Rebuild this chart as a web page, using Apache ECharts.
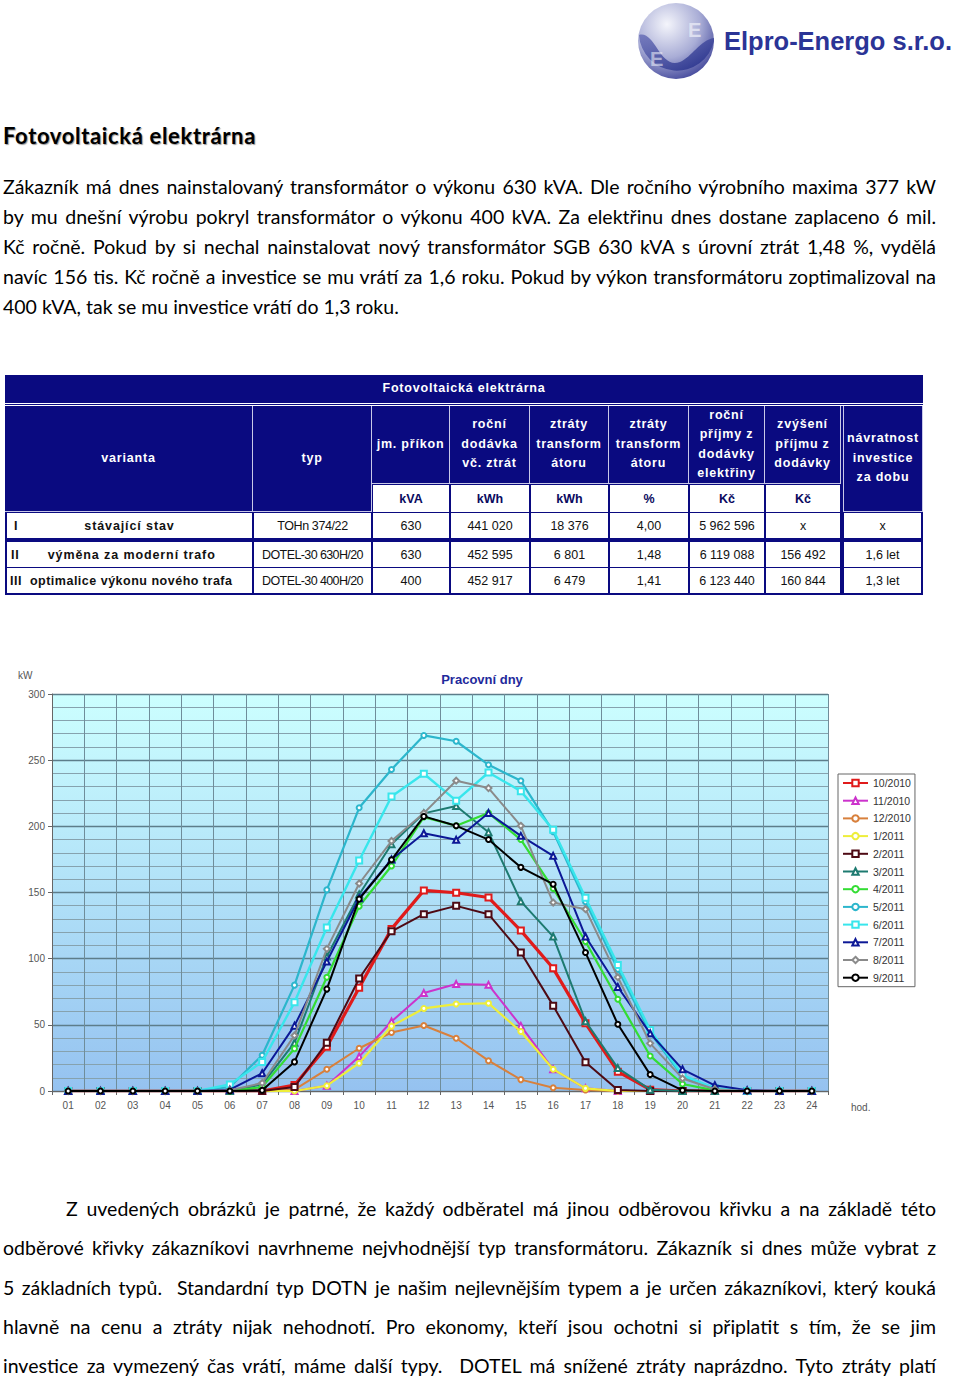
<!DOCTYPE html>
<html><head><meta charset="utf-8">
<script src="https://cdn.jsdelivr.net/npm/echarts@6/dist/echarts.min.js"></script>
<style>
html,body{margin:0;padding:0;background:#fff;}
body{width:960px;height:1377px;position:relative;overflow:hidden;font-family:Lato,"Noto Sans",sans-serif;color:#000;}
.ln{position:absolute;left:3px;width:933px;height:30px;line-height:30px;font-size:19.5px;white-space:nowrap;}
.jst{text-align:justify;text-align-last:justify;}
#h1{position:absolute;left:3px;top:121px;font-size:22px;font-weight:bold;line-height:30px;white-space:nowrap;text-shadow:1px 1px 1px #999;}
#tbl{position:absolute;left:5px;top:375px;width:918px;height:220px;background:#0a0a80;font-family:"Liberation Sans",Arial,sans-serif;}
#tbl div{position:absolute;box-sizing:border-box;display:flex;align-items:center;justify-content:center;text-align:center;}
.hc{color:#fff;font-weight:bold;font-size:12.5px;letter-spacing:0.8px;line-height:19.5px;border-right:1px solid #c8c8e8;border-bottom:1px solid #c8c8e8;}
.uc{background:#fff;color:#0a0a60;font-weight:bold;font-size:12.5px;}
.dc{background:#fff;color:#111;font-size:12.5px;}
.b0{font-weight:bold;letter-spacing:0.9px;}
#chart{position:absolute;left:0;top:660px;width:960px;height:460px;}
</style></head>
<body>
<svg width="326" height="90" style="position:absolute;left:630px;top:0" xmlns="http://www.w3.org/2000/svg">
<defs>
<radialGradient id="lg" cx="38%" cy="28%" r="80%"><stop offset="0" stop-color="#f4f5fb"/><stop offset="0.55" stop-color="#a9add6"/><stop offset="1" stop-color="#3a3f96"/></radialGradient>
<linearGradient id="lw" x1="0" y1="0" x2="1" y2="1"><stop offset="0" stop-color="#6a70b8"/><stop offset="1" stop-color="#1f2a86"/></linearGradient>
</defs>
<circle cx="46" cy="41" r="38" fill="url(#lg)"/>
<path d="M9,35 C25,30 30,70 50,62 C62,57 70,40 84,38 L84,41 A38,38 0 0 1 9,35 Z" fill="url(#lw)" opacity="0.85"/>
<text x="58" y="37" font-family="Liberation Sans" font-weight="bold" font-size="20" fill="#e8e9f5" opacity="0.8">E</text>
<text x="20" y="66" font-family="Liberation Sans" font-weight="bold" font-size="20" fill="#e8e9f5" opacity="0.6">E</text>
<text x="94" y="50" font-family="Liberation Sans" font-weight="bold" font-size="26" fill="#2b3496" textLength="228" lengthAdjust="spacingAndGlyphs">Elpro-Energo s.r.o.</text>
</svg>

<div id="h1">Fotovoltaická elektrárna</div>

<div class="ln jst" style="top:172px">Zákazník má dnes nainstalovaný transformátor o výkonu 630 kVA. Dle ročního výrobního maxima 377 kW</div>
<div class="ln jst" style="top:202px">by mu dnešní výrobu pokryl transformátor o výkonu 400 kVA. Za elektřinu dnes dostane zaplaceno 6 mil.</div>
<div class="ln jst" style="top:232px">Kč ročně. Pokud by si nechal nainstalovat nový transformátor SGB 630 kVA s úrovní ztrát 1,48 %, vydělá</div>
<div class="ln jst" style="top:262px">navíc 156 tis. Kč ročně a investice se mu vrátí za 1,6 roku. Pokud by výkon transformátoru zoptimalizoval na</div>
<div class="ln" style="top:292px">400 kVA, tak se mu investice vrátí do 1,3 roku.</div>

<div id="tbl">
 <div class="hc" style="left:0;top:0;width:918px;height:28px;border:none;">Fotovoltaická elektrárna</div>
 <div style="left:0;top:28px;width:918px;height:3px;border-top:1px solid #fff;border-bottom:1px solid #fff;"></div>
 <div class="hc" style="left:0;top:31px;width:248px;height:106px;">varianta</div>
 <div class="hc" style="left:248px;top:31px;width:119px;height:106px;">typ</div>
 <div class="hc" style="left:367px;top:31px;width:78px;height:78px;">jm. příkon</div>
 <div class="hc" style="left:445px;top:31px;width:80px;height:78px;">roční<br>dodávka<br>vč. ztrát</div>
 <div class="hc" style="left:525px;top:31px;width:79px;height:78px;">ztráty<br>transform<br>átoru</div>
 <div class="hc" style="left:604px;top:31px;width:80px;height:78px;">ztráty<br>transform<br>átoru</div>
 <div class="hc" style="left:684px;top:31px;width:76px;height:78px;">roční<br>příjmy z<br>dodávky<br>elektřiny</div>
 <div class="hc" style="left:760px;top:31px;width:76px;height:78px;">zvýšení<br>příjmu z<br>dodávky</div>
 <div class="hc" style="left:838px;top:31px;width:80px;height:106px;border-left:1px solid #c8c8e8;">návratnost<br>investice<br>za dobu</div>
 <div class="uc" style="left:368px;top:110px;width:76px;height:27px;">kVA</div>
 <div class="uc" style="left:446px;top:110px;width:78px;height:27px;">kWh</div>
 <div class="uc" style="left:526px;top:110px;width:77px;height:27px;">kWh</div>
 <div class="uc" style="left:605px;top:110px;width:78px;height:27px;">%</div>
 <div class="uc" style="left:685px;top:110px;width:74px;height:27px;">Kč</div>
 <div class="uc" style="left:761px;top:110px;width:74px;height:27px;">Kč</div>

 <div class="dc b0" style="left:2px;top:138px;width:245px;height:25px;"><span style="position:absolute;left:7px;">I</span>stávající stav</div>
 <div class="dc" style="left:249px;top:138px;width:117px;height:25px;letter-spacing:-0.4px;">TOHn 374/22</div>
 <div class="dc" style="left:368px;top:138px;width:76px;height:25px;">630</div>
 <div class="dc" style="left:446px;top:138px;width:78px;height:25px;">441 020</div>
 <div class="dc" style="left:526px;top:138px;width:77px;height:25px;">18 376</div>
 <div class="dc" style="left:605px;top:138px;width:78px;height:25px;">4,00</div>
 <div class="dc" style="left:685px;top:138px;width:74px;height:25px;">5 962 596</div>
 <div class="dc" style="left:761px;top:138px;width:74px;height:25px;">x</div>
 <div class="dc" style="left:839px;top:138px;width:77px;height:25px;">x</div>

 <div class="dc b0" style="left:2px;top:167px;width:245px;height:25px;"><span style="position:absolute;left:4px;">II</span>&nbsp;výměna za moderní trafo</div>
 <div class="dc" style="left:249px;top:167px;width:117px;height:25px;letter-spacing:-0.6px;">DOTEL-30 630H/20</div>
 <div class="dc" style="left:368px;top:167px;width:76px;height:25px;">630</div>
 <div class="dc" style="left:446px;top:167px;width:78px;height:25px;">452 595</div>
 <div class="dc" style="left:526px;top:167px;width:77px;height:25px;">6 801</div>
 <div class="dc" style="left:605px;top:167px;width:78px;height:25px;">1,48</div>
 <div class="dc" style="left:685px;top:167px;width:74px;height:25px;">6 119 088</div>
 <div class="dc" style="left:761px;top:167px;width:74px;height:25px;">156 492</div>
 <div class="dc" style="left:839px;top:167px;width:77px;height:25px;">1,6 let</div>

 <div class="dc b0" style="left:2px;top:193px;width:245px;height:25px;justify-content:flex-start;letter-spacing:0.5px;"><span style="position:relative;left:3px;">III</span><span style="position:relative;left:11px;">optimalice výkonu nového trafa</span></div>
 <div class="dc" style="left:249px;top:193px;width:117px;height:25px;letter-spacing:-0.6px;">DOTEL-30 400H/20</div>
 <div class="dc" style="left:368px;top:193px;width:76px;height:25px;">400</div>
 <div class="dc" style="left:446px;top:193px;width:78px;height:25px;">452 917</div>
 <div class="dc" style="left:526px;top:193px;width:77px;height:25px;">6 479</div>
 <div class="dc" style="left:605px;top:193px;width:78px;height:25px;">1,41</div>
 <div class="dc" style="left:685px;top:193px;width:74px;height:25px;">6 123 440</div>
 <div class="dc" style="left:761px;top:193px;width:74px;height:25px;">160 844</div>
 <div class="dc" style="left:839px;top:193px;width:77px;height:25px;">1,3 let</div>
</div>

<div id="chart"></div>

<div class="ln jst" style="top:1194px;left:66px;width:870px;">Z uvedených obrázků je patrné, že každý odběratel má jinou odběrovou křivku a na základě této</div>
<div class="ln jst" style="top:1233px">odběrové křivky zákazníkovi navrhneme nejvhodnější typ transformátoru. Zákazník si dnes může vybrat z</div>
<div class="ln jst" style="top:1273px">5 základních typů.&nbsp; Standardní typ DOTN je našim nejlevnějším typem a je určen zákazníkovi, který kouká</div>
<div class="ln jst" style="top:1312px">hlavně na cenu a ztráty nijak nehodnotí. Pro ekonomy, kteří jsou ochotni si připlatit s tím, že se jim</div>
<div class="ln jst" style="top:1351px">investice za vymezený čas vrátí, máme další typy.&nbsp; DOTEL má snížené ztráty naprázdno. Tyto ztráty platí</div>

<script>
// fit text lines that would be wider than their box
function fitLine(el, target){
  const r = document.createRange(); r.selectNodeContents(el);
  const cls = el.classList.contains('jst');
  if (cls) el.classList.remove('jst');
  const w = r.getBoundingClientRect().width;
  const n = el.textContent.length;
  if (w > target) el.style.letterSpacing = ((target - w) / n) + 'px';
  if (cls) el.classList.add('jst');
}
document.querySelectorAll('.ln.jst').forEach(el => fitLine(el, el.clientWidth - 1));
(function(){ const h = document.getElementById('h1'); const r = document.createRange(); r.selectNodeContents(h);
  const w = r.getBoundingClientRect().width; const n = h.textContent.length; h.style.letterSpacing = ((253 - w) / n) + 'px'; })();

// ---- chart data ----
const hours = ['01','02','03','04','05','06','07','08','09','10','11','12','13','14','15','16','17','18','19','20','21','22','23','24'];
const yTicks = [0, 50, 100, 150, 200, 250, 300];
const seriesNames = ['10/2010','11/2010','12/2010','1/2011','2/2011','3/2011','4/2011','5/2011','6/2011','7/2011','8/2011','9/2011'];
const s_10_2010 = [0,0,0,0,0,0,0,4.5,33.5,78,122.5,151.6,149.8,146.2,121.2,92.7,51.2,14.6,1,0,0,0,0,0];
const s_11_2010 = [0,0,0,0,0,0,0,0,4,26,52.5,74,80.8,80.2,49.2,16.4,2,0,0,0,0,0,0,0];
const s_12_2010 = [0,0,0,0,0,0,0,1,16.4,32.3,44.2,49.5,39.9,22.9,8.6,2.5,0.8,0,0,0,0,0,0,0];
const s_1_2011  = [0,0,0,0,0,0,0,0,4,21,49,62.4,65.7,66.3,44.9,16.4,2,0,0,0,0,0,0,0];
const s_2_2011  = [0,0,0,0,0,0,0,3,36.5,85,120.7,133.6,139.9,133.6,104.6,64.5,21.7,0.8,0,0,0,0,0,0];
const s_3_2011  = [0,0,0,0,0,0,5,36.5,101.6,148.5,186.4,209.8,215.4,195.6,143.3,116.7,52.7,17.3,1,0,0,0,0,0];
const s_4_2011  = [0,0,0,0,0,0,3,32,86,139.6,170,207,200.4,210,190,153,113,69.3,26.5,5.3,0.5,0,0,0];
const s_5_2011  = [0,0,0,0,0,3,27,80,152,214,243,268.7,264.3,246.5,234.4,196,143,92,44,11,2,0,0,0];
const s_6_2011  = [0,0,0,0,0,5,22,67,123.5,174.2,222.5,239.7,219.4,240.7,226.6,197.4,146,95.3,46.1,12,2,0,0,0];
const s_7_2011  = [0,0,0,0,0,1,13.4,49.4,97.8,145.7,175,194.8,189.8,210,192.8,177.7,116.7,78.6,43.6,16.4,4.3,0.5,0,0];
const s_8_2011  = [0,0,0,0,0,0.5,6,42,107.4,156.8,188.9,210,234.5,228.9,200.4,142.4,137.4,86,36,9.5,1.3,0,0,0];
const s_9_2011  = [0,0,0,0,0,0,0.5,22,77,145,174.7,207.5,200.4,190,169,156.3,104.6,50.4,12.4,0.5,0,0,0,0];
const seriesData = [s_10_2010,s_11_2010,s_12_2010,s_1_2011,s_2_2011,s_3_2011,s_4_2011,s_5_2011,s_6_2011,s_7_2011,s_8_2011,s_9_2011];

const colors  = ['#e01b1b','#cc33cc','#d8803c','#eeee3a','#4e0a14','#1d7a70','#33dd33','#2cb6cc','#38e6ec','#0c1896','#8a8a8a','#000000'];
const symbols = ['emptyRect','emptyTriangle','emptyCircle','emptyCircle','emptyRect','emptyTriangle','emptyCircle','emptyCircle','emptyRect','emptyTriangle','emptyDiamond','emptyCircle'];
const widths  = [3.2,2,2,2.2,2,2,2.2,2.2,2.4,2,2,2];

const chart = echarts.init(document.getElementById('chart'), null, {renderer:'svg'});
const font = '"Liberation Sans", Arial, sans-serif';
chart.setOption({
  animation:false,
  grid:{left:52, top:34, width:776, height:397, show:true, borderWidth:0,
    backgroundColor:{type:'linear',x:0,y:0,x2:0,y2:1,colorStops:[{offset:0,color:'#ccffff'},{offset:1,color:'#95c2f0'}]}},
  xAxis:{type:'category', data:hours, boundaryGap:true,
    axisLine:{lineStyle:{color:'#666'}}, axisTick:{show:true,length:4,lineStyle:{color:'#666'}},
    axisLabel:{fontSize:10, color:'#555', margin:9, fontFamily:font},
    splitLine:{show:true, lineStyle:{color:'#6f8d9a', width:1}}},
  yAxis:{type:'value', min:yTicks[0], max:yTicks[yTicks.length-1], interval:50,
    axisLine:{show:true, lineStyle:{color:'#666'}}, axisTick:{show:true,length:4,lineStyle:{color:'#666'}},
    axisLabel:{fontSize:10, color:'#555', margin:7, fontFamily:font},
    splitLine:{lineStyle:{color:'#5d7d8a', width:1.3}},
    minorTick:{show:false, splitNumber:5},
    minorSplitLine:{show:true, lineStyle:{color:'#86a2ae', width:1}}},
  legend:{orient:'vertical', left:838, top:114, padding:[3,4,3,4], itemWidth:25, itemHeight:8, itemGap:5.7,
    borderColor:'#666', borderWidth:1, backgroundColor:'#fff',
    textStyle:{fontSize:10.5, color:'#333', fontFamily:font, lineHeight:12},
    data:seriesNames},
  graphic:[
    {type:'text', x:482, y:19, style:{text:'Pracovní dny', textAlign:'center', textVerticalAlign:'middle', font:'bold 13px "Liberation Sans", Arial', fill:'#1f2a9c'}},
    {type:'text', x:18, y:15, style:{text:'kW', textVerticalAlign:'middle', font:'10px "Liberation Sans", Arial', fill:'#555'}},
    {type:'text', x:851, y:447, style:{text:'hod.', textVerticalAlign:'middle', font:'10px "Liberation Sans", Arial', fill:'#555'}}
  ],
  series: seriesNames.map((n,i)=>({
    name:n, type:'line', data:seriesData[i], symbol:symbols[i],
    symbolSize: symbols[i]==='emptyRect'?6:(symbols[i]==='emptyCircle'?5:6),
    itemStyle:{color:colors[i], borderWidth:1},
    lineStyle:{color:colors[i], width:widths[i]},
    z: 2 + i
  }))
});
</script>
</body></html>
